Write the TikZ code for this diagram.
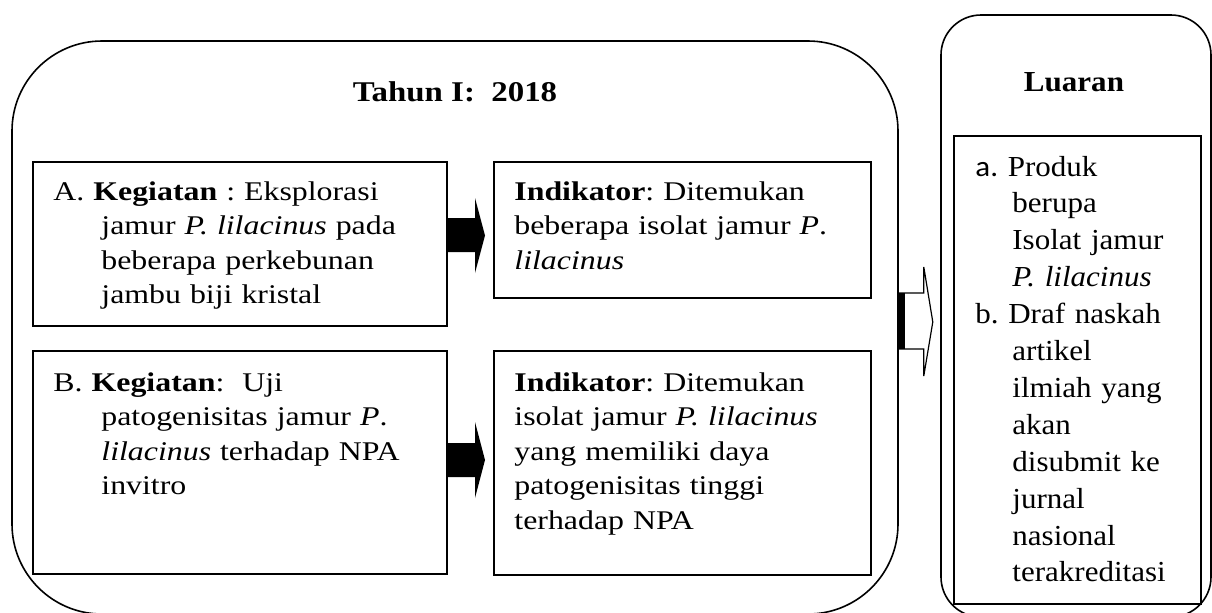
\documentclass[tikz,border=0pt]{standalone}
\usepackage{fontspec}
\setmainfont{Liberation Serif}[FakeStretch=1.18]
\newfontfamily\judulfont{Liberation Serif}[FakeStretch=1.15]
\newfontfamily\luaranfont{Liberation Serif}[FakeStretch=1.07]
\newfontfamily\hurufa{Carlito}[FakeStretch=1.07]
\usepackage{tikz}
\newcommand{\Spesies}{\textit{P. lilacinus}}
\newcommand{\Tgk}{\hspace*{24pt}}
\newcommand{\Tgkl}{\hspace*{18.5pt}}
\frenchspacing

\begin{document}
\begin{tikzpicture}[x=0.5pt,y=-0.5pt,
		frame/.style={draw, line width=0.8pt, inner sep=0pt},
		box/.style={draw, line width=1pt, inner sep=0pt, anchor=north west},
		isi/.style={inner sep=0pt, anchor=base west, align=left, text width=200pt,
			font=\frenchspacing\fontsize{13.5}{17.25}\selectfont},
		judul/.style={inner sep=0pt, anchor=base, font=\judulfont\bfseries\fontsize{14.3}{17}\selectfont}]
		\useasboundingbox (0,0) rectangle (1212,612);

		% Define nodes
		\node[frame, rounded corners=45pt, minimum width=443pt, minimum height=286.5pt] (tahun) at (455,327.5) {};
		\node[judul] (judulTahun) at (455,101) {Tahun I:\ \ 2018};

		\node[box, minimum width=207pt, minimum height=82pt] (boxA) at (32,161) {};
		\node[box, minimum width=188.5pt, minimum height=68pt] (indA) at (493,161) {};
		\node[box, minimum width=207pt, minimum height=111.5pt] (boxB) at (32,350) {};
		\node[box, minimum width=188.5pt, minimum height=112pt] (indB) at (493,350) {};

		\node[isi] (txtA) at (53,200) {A. \textbf{Kegiatan} : Eksplorasi\\ \Tgk jamur \Spesies{} pada\\
			\Tgk beberapa perkebunan\\ \Tgk jambu biji kristal};
		\node[isi] (txtIA) at (514,200) {\textbf{Indikator}: Ditemukan\\ beberapa isolat jamur \textit{P}.\\ \textit{lilacinus}};
		\node[isi] (txtB) at (53,391) {B. \textbf{Kegiatan}:\ \ Uji\\ \Tgk patogenisitas jamur \textit{P}.\\
			\Tgk \textit{lilacinus} terhadap NPA\\ \Tgk invitro};
		\node[isi] (txtIB) at (514,391) {\textbf{Indikator}: Ditemukan\\ isolat jamur \Spesies\\ yang memiliki daya\\ patogenisitas tinggi\\ terhadap NPA};

		\node[frame, rounded corners=20pt, minimum width=135pt, minimum height=301pt] (luaran) at (1076,316) {};
		\node[judul, font=\luaranfont\bfseries\fontsize{14.5}{17}\selectfont] (judulLuaran) at (1074,91) {Luaran};
		\node[box, minimum width=123.5pt, minimum height=234pt] (hasil) at (953,135) {};
		\node[isi, text width=120pt, font=\frenchspacing\luaranfont\fontsize{14.5}{18.45}\selectfont] (txtHasil) at (975,176) {{\hurufa a.} Produk\\
			\Tgkl berupa\\ \Tgkl Isolat jamur\\ \Tgkl \Spesies\\ b. Draf naskah\\ \Tgkl artikel\\ \Tgkl ilmiah yang\\ \Tgkl akan\\
			\Tgkl disubmit ke\\ \Tgkl jurnal\\ \Tgkl nasional\\ \Tgkl terakreditasi};

		% Connect the nodes
		\fill (boxA.east |- 0,218) -- ++(27,0) -- ++(0,-20) -- ++(10,37.5) -- ++(-10,37.5) -- ++(0,-21) -- ++(-27,0) -- cycle;
		\fill (boxB.east |- 0,443) -- ++(27,0) -- ++(0,-21) -- ++(10,38) -- ++(-10,38) -- ++(0,-21) -- ++(-27,0) -- cycle;
		\fill (tahun.east |- 0,293) rectangle ++(6,56);
		\draw[line width=0.6pt] (tahun.east |- 0,293) -- ++(25,0) -- ++(0,-26) -- ++(9,55) -- ++(-9,54) -- ++(0,-27) -- ++(-25,0);
	\end{tikzpicture}
\end{document}
